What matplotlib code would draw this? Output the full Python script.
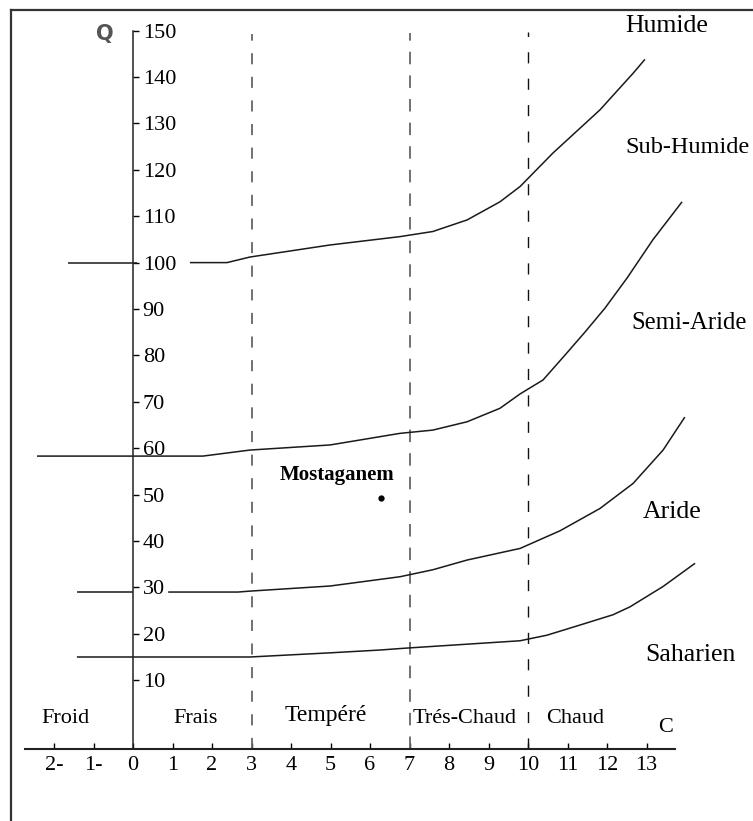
import matplotlib
matplotlib.use('Agg')
import matplotlib.pyplot as plt
from matplotlib.lines import Line2D

plt.rcParams['font.family'] = ['Liberation Serif', 'DejaVu Serif']
plt.rcParams['lines.scale_dashes'] = False

# ---- data ----
c_ticks = [-2, -1, 0, 1, 2, 3, 4, 5, 6, 7, 8, 9, 10, 11, 12, 13]
c_tick_labels = ['2-', '1-', '0', '1', '2', '3', '4', '5', '6', '7', '8', '9', '10', '11', '12', '13']
q_ticks = [10, 20, 30, 40, 50, 60, 70, 80, 90, 100, 110, 120, 130, 140, 150]

zone_bounds = [3, 7, 10]
zone_names = ['Froid', 'Frais', 'Tempéré', 'Trés-Chaud', 'Chaud']
zone_c = [-1.72, 1.59, 4.89, 8.4, 11.19]
zone_q = [1.8, 1.8, 2.3, 1.8, 1.8]

# Humide / Sub-Humide limit
hum_left_c = [-1.65, 0.1]
hum_left_q = [100, 100]
hum_c = [1.44, 2.38, 2.96, 4.99, 6.76, 7.59, 8.46, 9.29, 9.80, 10.63, 11.82, 12.66, 12.96]
hum_q = [100, 100, 101.2, 103.8, 105.6, 106.7, 109.2, 113.1, 116.4, 123.6, 132.9, 140.8, 143.8]

# Sub-Humide / Semi-Aride limit
sub_c = [-2.43, 1.77, 2.96, 4.99, 6.76, 7.59, 8.46, 9.29, 9.80, 10.38, 10.94, 11.44, 11.95, 12.51, 13.16, 13.90]
sub_q = [58.3, 58.3, 59.6, 60.7, 63.2, 63.9, 65.7, 68.6, 71.7, 74.7, 80.1, 85.0, 90.2, 96.7, 104.9, 113.1]

# Semi-Aride / Aride limit
semi_left_c = [-1.42, 0.0]
semi_left_q = [29, 29]
semi_c = [0.89, 2.66, 2.96, 4.99, 6.76, 7.59, 8.46, 9.80, 10.81, 11.82, 12.66, 13.42, 13.97]
semi_q = [29, 29, 29.2, 30.3, 32.3, 33.8, 35.9, 38.4, 42.2, 47.0, 52.4, 59.6, 66.7]

# Aride / Saharien limit
ari_c = [-1.42, 2.96, 4.99, 6.25, 6.89, 9.80, 10.48, 11.32, 12.15, 12.58, 13.42, 14.23]
ari_q = [15.0, 15.0, 15.9, 16.5, 16.9, 18.5, 19.7, 21.9, 24.1, 25.8, 30.2, 35.2]

zone_labels = ['Humide', 'Sub-Humide', 'Semi-Aride', 'Aride', 'Saharien']
zone_label_c = [12.46, 12.46, 12.62, 12.91, 12.96]
zone_label_q = [151.0, 124.7, 86.9, 46.2, 15.4]
zone_label_fs = [18.5, 17.5, 17.8, 18.5, 18.5]

station = 'Mostaganem'
station_c = 6.28
station_q = 49.3

# ---- figure ----
fig = plt.figure(figsize=(7.53, 8.21), dpi=100)
ax = fig.add_axes([0, 0, 1, 1])
ax.set_xlim(-133 / 39.5, (753 - 133) / 39.5)
ax.set_ylim((726.6 - 821) / 4.64, 726.6 / 4.64)
q_axis = (726.6 - 749) / 4.64

ax.spines['top'].set_visible(False)
ax.spines['left'].set_visible(False)
ax.spines['right'].set_position(('data', 0))
ax.spines['right'].set_bounds(q_axis, 150)
ax.spines['right'].set_linewidth(1.1)
ax.spines['bottom'].set_position(('data', q_axis))
ax.spines['bottom'].set_bounds(-2.73, 13.72)
ax.spines['bottom'].set_linewidth(1.5)
ax.spines['bottom'].set_color('#222222')
ax.spines['right'].set_color('#222222')

ax.yaxis.tick_right()
ax.set_yticks(q_ticks)
ax.set_yticklabels([str(q) for q in q_ticks])
ax.set_xticks(c_ticks)
ax.set_xticklabels(c_tick_labels)
ax.tick_params(axis='y', direction='out', length=4, width=1, pad=3, labelsize=16)
ax.tick_params(axis='x', direction='in', length=4, width=1, pad=5, labelsize=16)

# zone boundaries
ax.vlines(zone_bounds[0], q_axis, 149.3, colors='#666666', lw=1.3, linestyles=(0, (8, 9)))
ax.vlines(zone_bounds[1], q_axis, 149.5, colors='#666666', lw=1.3, linestyles=(0, (9, 8)))
ax.vlines(zone_bounds[2], q_axis, 149.8, colors='#111111', lw=1.0, linestyles=(0, (8, 11)))

# climate limits
lk = dict(color='#1a1a1a', lw=1.1, solid_capstyle='butt', solid_joinstyle='round')
ax.plot(hum_left_c, hum_left_q, **lk)
ax.plot(hum_c, hum_q, **lk)
ax.plot(sub_c, sub_q, **lk)
ax.plot(semi_left_c, semi_left_q, **lk)
ax.plot(semi_c, semi_q, **lk)
ax.plot(ari_c, ari_q, **lk)

# station
ax.plot([station_c], [station_q], 'o', color='black', ms=3.5)
ax.text(3.72, 54.2, station, fontsize=15, fontweight='bold', ha='left', va='center')

for name, c, q in zip(zone_names, zone_c, zone_q):
    fs = 17 if name == 'Tempéré' else 16
    ax.text(c, q, name, fontsize=fs, ha='center', va='center')

for name, c, q, fs in zip(zone_labels, zone_label_c, zone_label_q, zone_label_fs):
    ax.text(c, q, name, fontsize=fs, ha='left', va='center')

ax.text(13.47, -0.3, 'C', fontsize=16, ha='center', va='center')
ax.text(-0.71, 149.3, 'Q', fontsize=15, ha='center', va='center',
        family='DejaVu Sans', fontweight='bold', color='#555555')

# outer frame
fig.add_artist(Line2D([11 / 753, 1.0], [1 - 10 / 821, 1 - 10 / 821], color='#333333', lw=1.6))
fig.add_artist(Line2D([11 / 753, 11 / 753], [0.0, 1 - 10 / 821], color='#333333', lw=1.6))

fig.savefig('out.png', dpi=100)
